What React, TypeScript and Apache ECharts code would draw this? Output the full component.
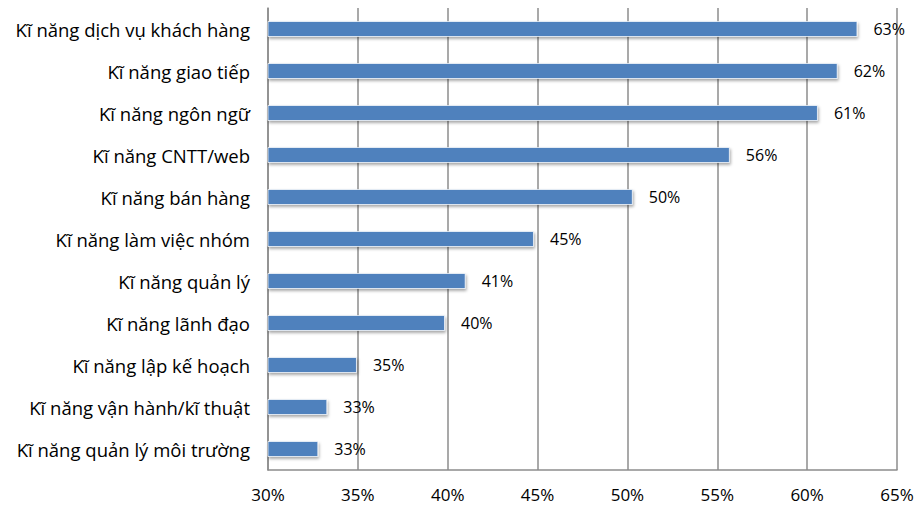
import React, { useEffect, useRef } from "react";
import * as echarts from "echarts";

const categories = [
  "Kĩ năng quản lý môi trường",
  "Kĩ năng vận hành/kĩ thuật",
  "Kĩ năng lập kế hoạch",
  "Kĩ năng lãnh đạo",
  "Kĩ năng quản lý",
  "Kĩ năng làm việc nhóm",
  "Kĩ năng bán hàng",
  "Kĩ năng CNTT/web",
  "Kĩ năng ngôn ngữ",
  "Kĩ năng giao tiếp",
  "Kĩ năng dịch vụ khách hàng",
];
const values = [32.8, 33.3, 34.95, 39.85, 41.0, 44.8, 50.3, 55.7, 60.6, 61.7, 62.8];
const tickMin = 30;
const tickMax = 65;
const tickStep = 5;

export default function App() {
  const ref = useRef<HTMLDivElement>(null);
  useEffect(() => {
    if (!ref.current) return;
    const chart = echarts.init(ref.current, null, { renderer: "svg" });
    const font = "'Open Sans', sans-serif";
    chart.setOption({
      animation: false,
      grid: { left: 268, right: 26, top: 8, bottom: 36, outerBoundsMode: "none" },
      xAxis: {
        type: "value",
        min: tickMin,
        max: tickMax,
        interval: tickStep,
        axisLine: { show: true, lineStyle: { color: "#8c8c8c", width: 1.5 } },
        axisTick: { show: false },
        splitLine: { show: true, lineStyle: { color: "#8c8c8c", width: 1.5 } },
        axisLabel: {
          formatter: (v: number) => v + "%",
          fontSize: 17,
          color: "#000",
          fontFamily: font,
          margin: 16,
        },
      },
      yAxis: {
        type: "category",
        data: categories,
        axisLine: { show: true, lineStyle: { color: "#8c8c8c", width: 1.5 } },
        axisTick: { show: false },
        axisLabel: { fontSize: 18.5, color: "#000", fontFamily: font, margin: 18 },
      },
      series: [
        {
          type: "bar",
          data: values,
          barWidth: 16,
          itemStyle: {
            color: "#4F81BD",
            borderColor: "rgba(255,255,255,0.7)",
            borderWidth: 1,
            shadowColor: "rgba(0,0,0,0.35)",
            shadowBlur: 3,
            shadowOffsetX: 1,
            shadowOffsetY: 2,
          },
          label: {
            show: true,
            position: "right",
            distance: 16,
            formatter: (p: any) => Math.round(p.value) + "%",
            fontSize: 16,
            color: "#000",
            fontFamily: font,
          },
        },
      ],
    });
    return () => chart.dispose();
  }, []);
  return (
    <div
      ref={ref}
      style={{ position: "absolute", left: 0, top: 0, width: 923, height: 506, background: "#fff" }}
    />
  );
}
